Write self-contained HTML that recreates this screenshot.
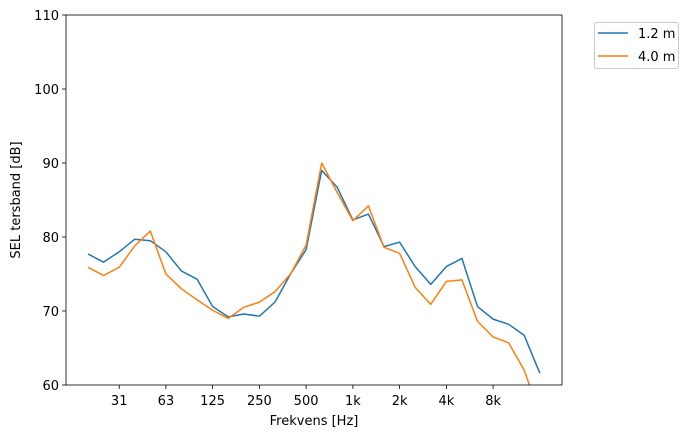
<!DOCTYPE html>
<html><head><meta charset="utf-8"><style>
body{margin:0;background:#fff}
svg{display:block;font-family:"DejaVu Sans","Liberation Sans",sans-serif}
</style></head><body>
<svg width="693" height="438" viewBox="0 0 693 438" xmlns="http://www.w3.org/2000/svg">
<defs><clipPath id="c"><rect x="66" y="15" width="496" height="370"/></clipPath></defs>
<rect width="693" height="438" fill="#fff"/>
<g clip-path="url(#c)">
<g transform="matrix(15.58,0,0,-7.4,88,829)">
<polyline fill="none" stroke="#1f77b4" stroke-width="1.5" vector-effect="non-scaling-stroke" stroke-linejoin="round"
points="0,77.7 1,76.6 2,78 3,79.7 4,79.5 5,78 6,75.4 7,74.3 8,70.6 9,69.2 10,69.6 11,69.3 12,71.2 13,75 14,78.3 15,89 16,86.7 17,82.3 18,83.1 19,78.7 20,79.3 21,76 22,73.6 23,76 24,77.1 25,70.6 26,68.9 27,68.2 28,66.7 29,61.6"/>
<polyline fill="none" stroke="#ff7f0e" stroke-width="1.5" vector-effect="non-scaling-stroke" stroke-linejoin="round"
points="0,75.9 1,74.8 2,75.9 3,78.8 4,80.8 5,75 6,73 7,71.5 8,70.1 9,69 10,70.5 11,71.2 12,72.6 13,75 14,78.9 15,90 16,86 17,82.2 18,84.2 19,78.6 20,77.8 21,73.2 22,70.9 23,74 24,74.2 25,68.6 26,66.5 27,65.7 28,62 29,56"/>
</g></g>
<rect x="66" y="15" width="496" height="370" fill="none" stroke="#000" stroke-width="0.8"/>
<g stroke="#000" stroke-width="0.8">
<line x1="62" x2="66" y1="385" y2="385"/><line x1="62" x2="66" y1="311" y2="311"/><line x1="62" x2="66" y1="237" y2="237"/><line x1="62" x2="66" y1="163" y2="163"/><line x1="62" x2="66" y1="89" y2="89"/><line x1="62" x2="66" y1="15" y2="15"/>
<line x1="119.2" x2="119.2" y1="385" y2="389"/><line x1="165.9" x2="165.9" y1="385" y2="389"/><line x1="212.6" x2="212.6" y1="385" y2="389"/><line x1="259.4" x2="259.4" y1="385" y2="389"/><line x1="306.1" x2="306.1" y1="385" y2="389"/><line x1="352.9" x2="352.9" y1="385" y2="389"/><line x1="399.6" x2="399.6" y1="385" y2="389"/><line x1="446.4" x2="446.4" y1="385" y2="389"/><line x1="493.1" x2="493.1" y1="385" y2="389"/>
</g>
<g font-size="13" fill="#000" text-anchor="end">
<text x="59" y="390">60</text><text x="59" y="316">70</text><text x="59" y="242">80</text><text x="59" y="168">90</text><text x="59" y="94">100</text><text x="59" y="20">110</text>
</g>
<g font-size="13" fill="#000" text-anchor="middle">
<text x="119.2" y="405">31</text><text x="165.9" y="405">63</text><text x="212.6" y="405">125</text><text x="259.4" y="405">250</text><text x="306.1" y="405">500</text><text x="352.9" y="405">1k</text><text x="399.6" y="405">2k</text><text x="446.4" y="405">4k</text><text x="493.1" y="405">8k</text>
<text x="314" y="425">Frekvens [Hz]</text>
<text transform="translate(20,200) rotate(-90)">SEL tersband [dB]</text>
</g>
<rect x="594.5" y="22.5" width="84" height="46" rx="2" fill="#fff" stroke="#ccc"/>
<line x1="598" x2="628" y1="33" y2="33" stroke="#1f77b4" stroke-width="1.5"/>
<line x1="598" x2="628" y1="56" y2="56" stroke="#ff7f0e" stroke-width="1.5"/>
<text x="638" y="38" font-size="13">1.2 m</text>
<text x="638" y="61" font-size="13">4.0 m</text>
</svg>
</body></html>
